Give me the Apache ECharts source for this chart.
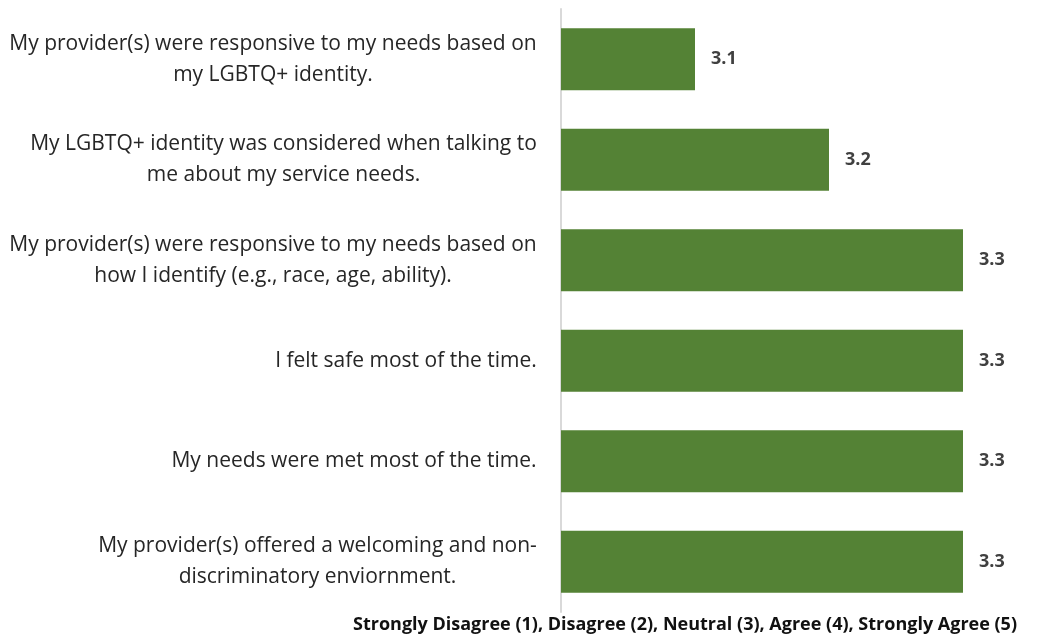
<!DOCTYPE html>
<html><head><meta charset="utf-8">
<script src="https://cdn.jsdelivr.net/npm/echarts@6/dist/echarts.min.js"></script>
<style>html,body{margin:0;padding:0;background:#fff}#c{width:1041px;height:636px}</style>
</head><body><div id="c"></div>
<script>
const categories = [
  "My provider(s) were responsive to my needs based on\nmy LGBTQ+ identity.",
  "My LGBTQ+ identity was considered when talking to\nme about my service needs.",
  "My provider(s) were responsive to my needs based on\nhow I identify (e.g., race, age, ability).",
  "I felt safe most of the time.",
  "My needs were met most of the time.",
  "My provider(s) offered a welcoming and non-\ndiscriminatory enviornment."
];
const values = [3.1, 3.2, 3.3, 3.3, 3.3, 3.3];
const axisTitle = "Strongly Disagree (1), Disagree (2), Neutral (3), Agree (4), Strongly Agree (5)";

const FONT = '"Open Sans", sans-serif';
const LABEL_SIZE = 21;
const cv = document.createElement('canvas').getContext('2d');
cv.font = LABEL_SIZE + 'px "Open Sans"';
const rich = {};
categories.forEach((c, i) => {
  const w = Math.max(...c.split('\n').map(l => cv.measureText(l).width));
  rich['c' + i] = {width: Math.ceil(w), align: 'center', fontSize: LABEL_SIZE, fontFamily: FONT, color: '#262626', lineHeight: 31};
});

const chart = echarts.init(document.getElementById('c'));
chart.setOption({
  animation: false,
  grid: {left: 561, right: 11, top: 9, bottom: 24, containLabel: false},
  xAxis: {type: 'value', min: 3.0, max: 3.35, show: false},
  yAxis: {
    type: 'category', data: categories, inverse: true,
    axisLine: {show: true, lineStyle: {color: '#d9d9d9', width: 2}},
    axisTick: {show: false},
    axisLabel: {
      margin: 24, align: 'right',
      formatter: (v, i) => v.split('\n').map(l => '{c' + i + '|' + l + '}').join('\n'),
      rich: rich
    }
  },
  series: [{
    type: 'bar', data: values, barWidth: 62,
    itemStyle: {color: '#548235'},
    label: {show: true, position: 'right', distance: 16, formatter: p => p.value.toFixed(1),
      fontFamily: FONT, fontWeight: 'bold', fontSize: 18, color: '#404040'}
  }],
  graphic: [{type: 'text', style: {text: axisTitle, x: 685, y: 625,
    textAlign: 'center', textVerticalAlign: 'middle', fontFamily: FONT, fontWeight: 'bold', fontSize: 18, fill: '#111'}}]
});
</script></body></html>
